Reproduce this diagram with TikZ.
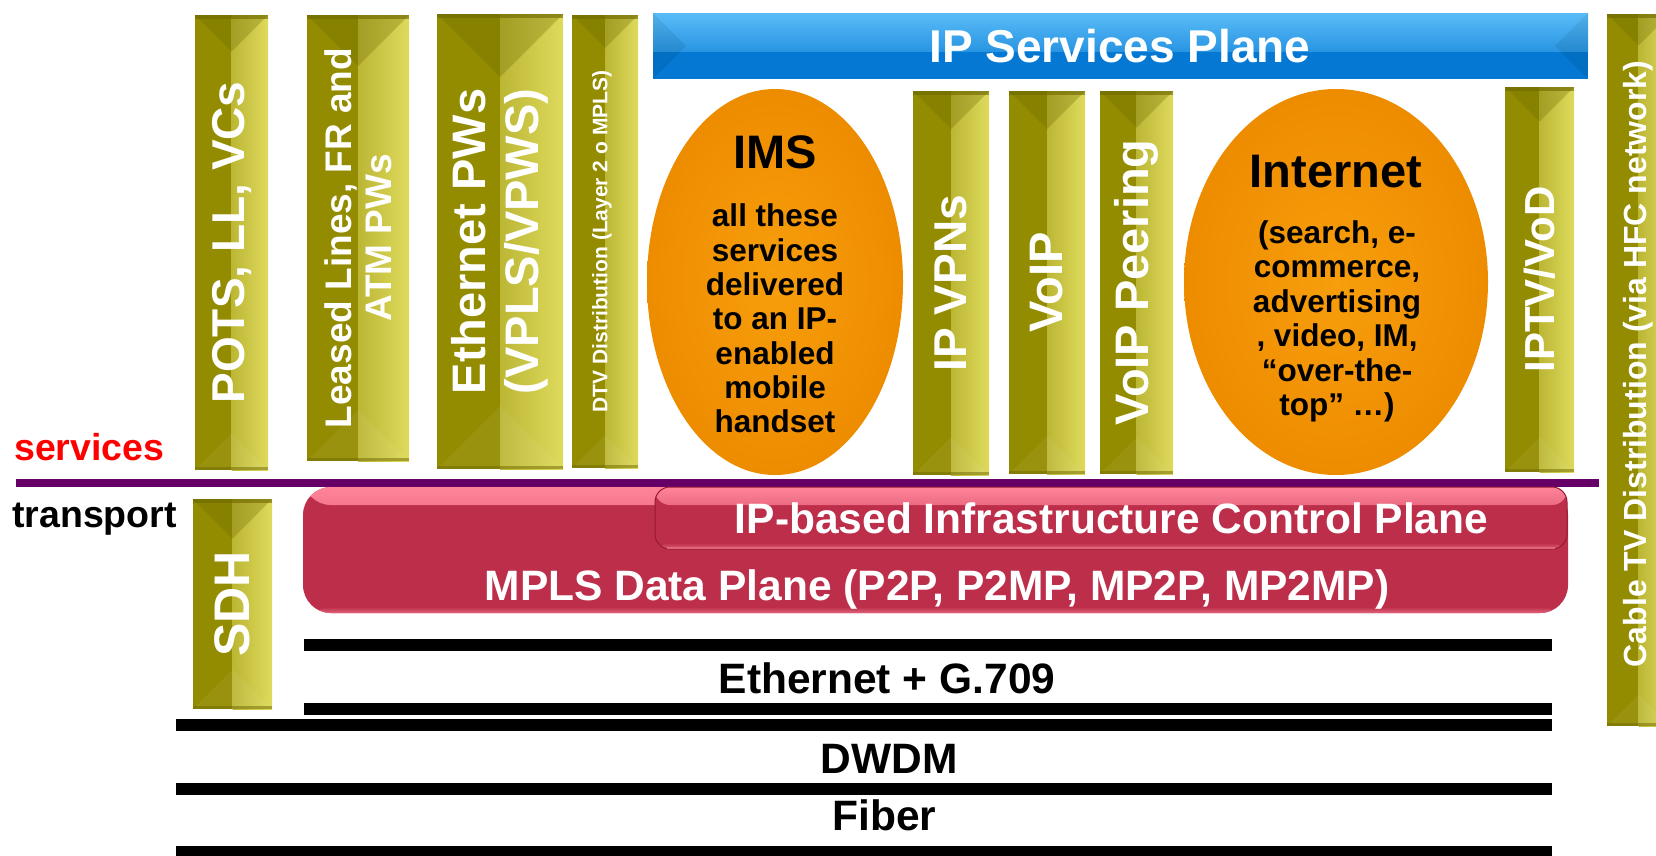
\documentclass[tikz,border=0pt]{standalone}
\usepackage{fontspec}
\setmainfont{Liberation Sans}
\usetikzlibrary{calc,shapes.geometric}

\definecolor{oliveA}{RGB}{147,140,0}
\definecolor{oliveB}{RGB}{226,222,96}
\definecolor{oliveC}{RGB}{110,104,0}
\definecolor{blueA}{RGB}{4,120,210}
\definecolor{blueB}{RGB}{90,188,248}
\definecolor{orangeA}{RGB}{238,140,0}
\definecolor{orangeB}{RGB}{247,158,12}
\definecolor{redA}{RGB}{188,46,74}
\definecolor{redB}{RGB}{255,132,154}
\definecolor{redC}{RGB}{226,100,124}
\definecolor{redD}{RGB}{150,26,52}
\definecolor{purpleA}{RGB}{102,0,102}
\definecolor{svcred}{RGB}{255,0,0}

\newcommand{\fsz}[2]{\fontsize{#1}{#2}\selectfont\bfseries}

\begin{document}
\begin{tikzpicture}[x=1pt,y=-1pt,
  olivebar/.style={rectangle, inner sep=0pt, outer sep=0pt, fill=oliveA, path picture={
    \shade[left color=oliveA!95!white, middle color=oliveA!80!oliveB, right color=oliveB] let \p1=(path picture bounding box.north west), \p2=(path picture bounding box.south east) in ({\x1+0.5*(\x2-\x1)},\y1) rectangle ({\x2+0.05*(\x2-\x1)},\y2);
    \fill[oliveC, opacity=0.3] let \p1=(path picture bounding box.north west), \p2=(path picture bounding box.south east) in (\x1,\y1) -- (\x2,\y1) -- ({0.5*(\x1+\x2)},{\y1-0.5*(\x2-\x1)}) -- cycle;
    \fill[oliveC, opacity=0.6] let \p1=(path picture bounding box.north west), \p2=(path picture bounding box.south east) in (\x1,\y1) rectangle (\x2,{\y1-4pt});
    \fill[white, opacity=0.06] let \p1=(path picture bounding box.north west), \p2=(path picture bounding box.south east) in (\x1,\y2) -- (\x2,\y2) -- ({0.5*(\x1+\x2)},{\y2+0.5*(\x2-\x1)}) -- cycle;
    \fill[oliveC, opacity=0.5] let \p1=(path picture bounding box.north west), \p2=(path picture bounding box.south east) in (\x1,\y2) rectangle (\x2,{\y2+3pt});
  }},
  blueplane/.style={rectangle, inner sep=0pt, outer sep=0pt, fill=blueA, path picture={
    \shade[top color=blueB, bottom color=blueA] (path picture bounding box.north west) rectangle ([yshift=-38pt]path picture bounding box.north east);
    \fill[black, opacity=0.07] let \p1=(path picture bounding box.north west), \p2=(path picture bounding box.south east) in (\x1,\y1) -- ({\x1+0.5*(\y1-\y2)},{0.5*(\y1+\y2)}) -- (\x1,\y2) -- cycle;
    \fill[black, opacity=0.07] let \p1=(path picture bounding box.north west), \p2=(path picture bounding box.south east) in (\x2,\y1) -- ({\x2-0.5*(\y1-\y2)},{0.5*(\y1+\y2)}) -- (\x2,\y2) -- cycle;
  }},
  orangeball/.style={ellipse, inner sep=0pt, outer sep=0pt, inner color=orangeB, outer color=orangeA},
  redbox/.style={rectangle, inner sep=0pt, outer sep=0pt, fill=redA, path picture={
    \shade[top color=redB, bottom color=redA] (path picture bounding box.north west) rectangle ([yshift=-18pt]path picture bounding box.north east);
    \shade[top color=redA, bottom color=redC] ([yshift=6pt]path picture bounding box.south west) rectangle (path picture bounding box.south east);
  }},
  wtxt/.style={text=white, inner sep=0pt, outer sep=0pt},
  btxt/.style={text=black, inner sep=0pt, outer sep=0pt},
  vt/.style={wtxt, rotate=90, align=center}
]
\useasboundingbox (0,0) rectangle (1656,855);
\clip (0,0) rectangle (1656,855);

% ---------- olive service bars ----------
\node[olivebar, minimum width=73, minimum height=455] (pots) at (231.5,242.5) {};
\node[olivebar, minimum width=102, minimum height=446] (leased) at (358,238) {};
\node[olivebar, minimum width=126, minimum height=455] (ethpw) at (500,241.5) {};
\node[olivebar, minimum width=66, minimum height=453] (dtv) at (605,241.5) {};
\node[olivebar, minimum width=76, minimum height=384] (ipvpn) at (951,283) {};
\node[olivebar, minimum width=76, minimum height=383] (voip) at (1047,282.5) {};
\node[olivebar, minimum width=73, minimum height=383] (voippeer) at (1136.5,282.5) {};
\node[olivebar, minimum width=69, minimum height=385] (iptv) at (1539.5,279.5) {};
\node[olivebar, minimum width=63, minimum height=712] (cable) at (1638.5,370) {};
\node[olivebar, minimum width=79, minimum height=210] (sdh) at (232.5,604) {};

\node[vt, font=\fsz{46}{52}] (potsT) at (pots.center) {POTS, LL, VCs};
\node[vt, font=\fsz{37}{40}] (leasedT) at (leased.center) {Leased Lines, FR and\\ATM PWs};
\node[vt, font=\fsz{47}{53}] (ethpwT) at (ethpw.center) {Ethernet PWs\\(VPLS/VPWS)};
\node[vt, font=\fsz{21}{24}] (dtvT) at ([xshift=-3pt]dtv.center) {DTV Distribution (Layer 2 o MPLS)};
\node[vt, font=\fsz{46}{52}] (ipvpnT) at (ipvpn.center) {IP VPNs};
\node[vt, font=\fsz{47}{52}] (voipT) at (voip.center) {VoIP};
\node[vt, font=\fsz{47}{52}] (voippeerT) at (voippeer.center) {VoIP Peering};
\node[vt, font=\fsz{42}{48}] (iptvT) at (iptv.center) {IPTV/VoD};
\node[vt, font=\fsz{32}{36}] (cableT) at ([shift={(0,-6)}]cable.center) {Cable TV Distribution (via HFC network)};
\node[vt, font=\fsz{50}{56}] (sdhT) at (sdh.center) {SDH};

% ---------- IP services plane ----------
\node[blueplane, minimum width=935, minimum height=66] (ipsp) at (1120.5,46) {};
\node[wtxt, anchor=base, font=\fsz{46}{52}] (ipspT) at (1120,62) {IP Services Plane};

% ---------- ellipses ----------
\node[orangeball, minimum width=256, minimum height=386] (ims) at (775,282) {};
\node[btxt, anchor=base, font=\fsz{47}{52}] (imsT) at (775,168) {IMS};
\node[btxt, anchor=north, align=center, font=\fsz{31.5}{34.3}] (imsB) at (775,204)
  {all these\\services\\delivered\\to an IP-\\enabled\\mobile\\handset};

\node[orangeball, minimum width=304, minimum height=386] (inet) at (1336,282) {};
\node[btxt, anchor=base, font=\fsz{47}{52}] (inetT) at (1336,187) {Internet};
\node[btxt, anchor=north, align=center, font=\fsz{31.5}{34.5}] (inetB) at (1337,220.5)
  {(search, e-\\commerce,\\advertising\\, video, IM,\\“over-the-\\top” …)};

% ---------- services / transport divider ----------
\fill[purpleA] (16,479) rectangle (1599,487);
\node[anchor=base west, inner sep=0pt, text=svcred, font=\fsz{37.5}{42}] (svc) at (14,460) {services};
\node[anchor=base west, inner sep=0pt, text=black, font=\fsz{37.5}{42}] (trans) at (12,527) {transport};

% ---------- MPLS planes ----------
\node[redbox, rounded corners=28pt, minimum width=1265, minimum height=126] (mpls) at (935.5,550) {};
\node[redbox, rounded corners=15pt, draw=redD, line width=1pt, minimum width=912, minimum height=62] (ctrl) at (1111,518) {};
\draw[redC, line width=2pt] ([xshift=12pt,yshift=1pt]ctrl.south west) -- ([xshift=-12pt,yshift=1pt]ctrl.south east);
\node[wtxt, anchor=base, font=\fsz{42.5}{48}] (ctrlT) at (1111.5,533) {IP-based Infrastructure Control Plane};
\node[wtxt, anchor=base, font=\fsz{42.5}{48}] (mplsT) at (937,600) {MPLS Data Plane (P2P, P2MP, MP2P, MP2MP)};

% ---------- transport layers ----------
\fill[black] (304,639) rectangle (1552,651);
\fill[black] (304,703) rectangle (1552,715);
\fill[black] (176,719) rectangle (1552,731);
\fill[black] (176,783) rectangle (1552,795);
\fill[black] (176,846) rectangle (1552,858);
\node[btxt, anchor=base, font=\fsz{42.5}{48}] (eth) at (887,693) {Ethernet + G.709};
\node[btxt, anchor=base, font=\fsz{42.5}{48}] (dwdm) at (889,773) {DWDM};
\node[btxt, anchor=base, font=\fsz{42.5}{48}] (fiber) at (884.5,830) {Fiber};
\end{tikzpicture}
\end{document}
